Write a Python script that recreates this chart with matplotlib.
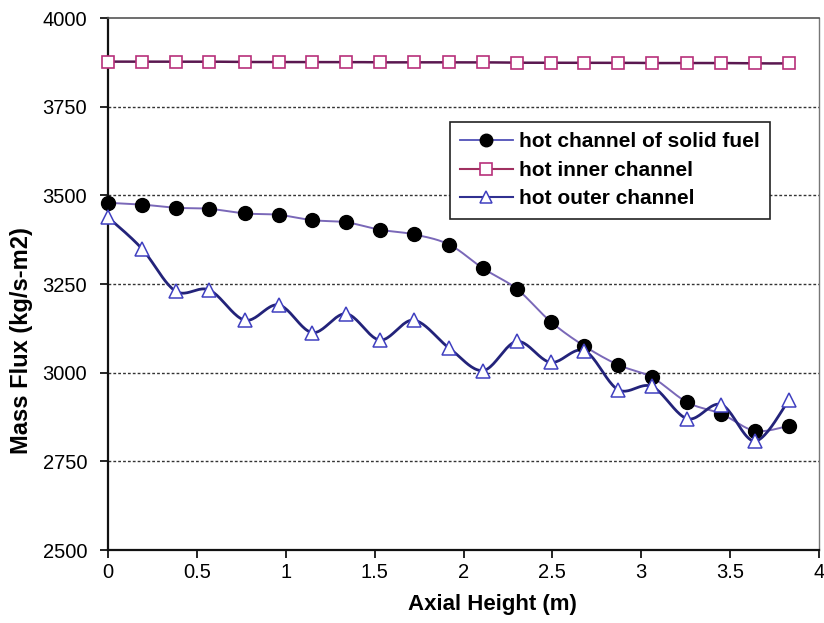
import numpy as np
import matplotlib
matplotlib.use("Agg")
import matplotlib.pyplot as plt
from matplotlib.lines import Line2D

plt.rcParams['font.family'] = ['Liberation Sans', 'DejaVu Sans']

# Axial positions (m)
axial_height = [0.00, 0.19, 0.38, 0.57, 0.77, 0.96, 1.15, 1.34, 1.53, 1.72, 1.92,
                2.11, 2.30, 2.49, 2.68, 2.87, 3.06, 3.26, 3.45, 3.64, 3.83]

# Mass flux (kg/s-m2)
solid_fuel = [3479, 3474, 3465, 3462, 3449, 3445, 3430, 3424, 3403, 3390, 3361,
              3294, 3236, 3144, 3075, 3022, 2987, 2916, 2884, 2836, 2850]
inner_channel = [3877, 3877, 3877, 3877, 3876, 3876, 3876, 3876, 3875, 3875, 3875,
                 3875, 3874, 3874, 3874, 3874, 3873, 3873, 3873, 3872, 3872]
outer_channel = [3438, 3350, 3230, 3233, 3148, 3191, 3113, 3166, 3092, 3148, 3069,
                 3006, 3088, 3029, 3062, 2952, 2961, 2870, 2910, 2807, 2922]

labels = ["hot channel of solid fuel", "hot inner channel", "hot outer channel"]
x_ticks = [0, 0.5, 1, 1.5, 2, 2.5, 3, 3.5, 4]
x_tick_labels = ["0", "0.5", "1", "1.5", "2", "2.5", "3", "3.5", "4"]
y_ticks = [2500, 2750, 3000, 3250, 3500, 3750, 4000]


def smooth(x, y, n=24):
    """Bezier smoothing through every point (tension 1/6 control points)."""
    x = np.asarray(x, float)
    y = np.asarray(y, float)
    P = np.column_stack([x, y])
    out = [P[0]]
    t = np.linspace(0, 1, n)[1:, None]
    for i in range(len(P) - 1):
        p0 = P[i - 1] if i > 0 else P[i]
        p1, p2 = P[i], P[i + 1]
        p3 = P[i + 2] if i + 2 < len(P) else P[i + 1]
        c1 = p1 + (p2 - p0) / 6.0
        c2 = p2 - (p3 - p1) / 6.0
        seg = ((1 - t) ** 3) * p1 + 3 * ((1 - t) ** 2) * t * c1 \
            + 3 * (1 - t) * t ** 2 * c2 + t ** 3 * p2
        out.extend(seg)
    out = np.array(out)
    return out[:, 0], out[:, 1]


fig = plt.figure(figsize=(8.24, 6.23), dpi=100)
ax = fig.add_axes([108 / 824, 73 / 623, (819 - 108) / 824, (550 - 18) / 623])

# grid
for yv in y_ticks[1:-1]:
    ax.axhline(yv, color="#333333", lw=1.0, ls=(0, (2, 1.5)), zorder=1)

c_solid_line = "#7a68b8"
c_inner_line = "#5a1850"
c_inner_mk = "#b8307a"
c_outer_line = "#23237a"
c_outer_mk = "#4040c0"

sx, sy = smooth(axial_height, solid_fuel)
ax.plot(sx, sy, color=c_solid_line, lw=1.4, zorder=3)
ax.plot(axial_height, solid_fuel, ls="none", marker="o", ms=10,
        mfc="black", mec="black", zorder=5, clip_on=False)

ix, iy = smooth(axial_height, inner_channel)
ax.plot(ix, iy, color=c_inner_line, lw=1.8, zorder=3)
ax.plot(axial_height, inner_channel, ls="none", marker="s", ms=9,
        mfc="white", mec=c_inner_mk, mew=1.2, zorder=5, clip_on=False)

ox, oy = smooth(axial_height, outer_channel)
ax.plot(ox, oy, color=c_outer_line, lw=2.0, zorder=4)
ax.plot(axial_height, outer_channel, ls="none", marker="^", ms=10,
        mfc="white", mec=c_outer_mk, mew=1.1, zorder=6, clip_on=False)

ax.set_xlim(0, 4)
ax.set_ylim(2500, 4000)
ax.set_xticks(x_ticks)
ax.set_xticklabels(x_tick_labels)
ax.set_yticks(y_ticks)
ax.tick_params(axis="both", direction="out", length=6, width=1.2,
               labelsize=14.5, colors="black")
ax.tick_params(axis="x", pad=3)
ax.tick_params(axis="y", pad=9)

for side in ["left", "bottom"]:
    ax.spines[side].set_linewidth(1.6)
    ax.spines[side].set_color("#111111")
ax.spines["top"].set_color("#555555")
ax.spines["top"].set_linewidth(1.2)
ax.spines["right"].set_color("#777777")
ax.spines["right"].set_linewidth(1.0)

ax.set_xlabel("Axial Height (m)", fontsize=16, fontweight="bold", va="center")
ax.xaxis.set_label_coords(0.54, -0.103)
ax.set_ylabel("Mass Flux (kg/s-m2)", fontsize=17, fontweight="bold", va="center")
ax.yaxis.set_label_coords(-0.122, 0.393)

handles = [
    Line2D([], [], color="#5050b8", lw=1.3, marker="o", ms=9,
           mfc="black", mec="black"),
    Line2D([], [], color="#a03060", lw=1.5, marker="s", ms=8,
           mfc="white", mec=c_inner_mk, mew=1.2),
    Line2D([], [], color="#303090", lw=1.5, marker="^", ms=9,
           mfc="white", mec=c_outer_mk, mew=1.1),
]
leg = ax.legend(handles, labels, loc="upper left",
                bbox_to_anchor=((450 - 108) / 711, (550 - 122) / 532),
                borderaxespad=0,
                frameon=True, fancybox=False, framealpha=1,
                edgecolor="#222222", handlelength=2.5, handletextpad=0.3,
                borderpad=0.5, labelspacing=0.45,
                prop={"weight": "bold", "size": 15})
leg.get_frame().set_linewidth(1.2)
leg.set_zorder(10)

fig.savefig("out.png", dpi=100)
